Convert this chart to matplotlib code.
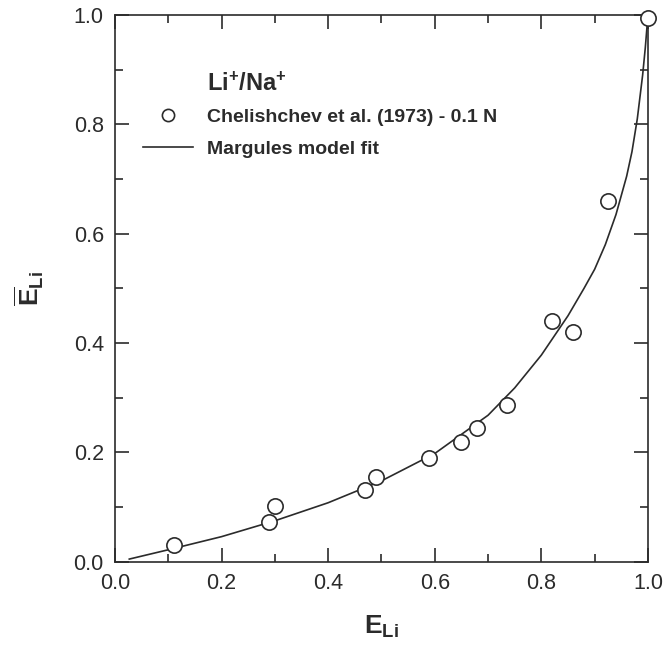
import matplotlib
matplotlib.use("Agg")
import matplotlib.pyplot as plt
from matplotlib.ticker import MultipleLocator

plt.rcParams['font.family'] = ['Liberation Sans', 'DejaVu Sans']
plt.rcParams['mathtext.fontset'] = 'custom'
plt.rcParams['mathtext.rm'] = 'Liberation Sans'
plt.rcParams['mathtext.bf'] = 'Liberation Sans:bold'

# measured data (Chelishchev et al. 1973, 0.1 N)
e_li = [0.11, 0.29, 0.30, 0.47, 0.49, 0.59, 0.65, 0.68, 0.735, 0.82, 0.86, 0.925, 1.0]
e_li_bar = [0.030, 0.072, 0.102, 0.131, 0.155, 0.190, 0.220, 0.245, 0.286, 0.440, 0.420, 0.660, 0.995]

# Margules model fit
fit_x = [0.027, 0.1, 0.2, 0.3, 0.4, 0.5, 0.6, 0.7, 0.75, 0.8, 0.85, 0.88,
         0.9, 0.92, 0.94, 0.96, 0.97, 0.98, 0.99, 0.995, 1.0]
fit_y = [0.005, 0.022, 0.046, 0.075, 0.108, 0.148, 0.198, 0.268, 0.318, 0.378,
         0.450, 0.500, 0.535, 0.580, 0.635, 0.705, 0.750, 0.810, 0.890, 0.940, 1.0]

ink = '#2b2b2b'

fig = plt.figure(figsize=(6.68, 6.51), dpi=100)
ax = fig.add_axes([0.172, 0.137, 0.798, 0.840])

ax.plot(fit_x, fit_y, color=ink, lw=1.2, label='Margules model fit', zorder=2)
ax.plot(e_li, e_li_bar, 'o', ms=11, mfc='white', mec=ink, mew=1.2,
        label='Chelishchev et al. (1973) - 0.1 N', zorder=3, clip_on=False)

ax.set_xlim(0, 1)
ax.set_ylim(0, 1)
ax.xaxis.set_major_locator(MultipleLocator(0.2))
ax.xaxis.set_minor_locator(MultipleLocator(0.1))
ax.yaxis.set_major_locator(MultipleLocator(0.2))
ax.yaxis.set_minor_locator(MultipleLocator(0.1))
ax.tick_params(which='both', direction='in', top=True, right=True,
               color=ink, width=1.2)
ax.tick_params(which='major', length=10, labelsize=15.5, labelcolor=ink, pad=8)
ax.tick_params(which='minor', length=5.5)
for s in ax.spines.values():
    s.set_color(ink)
    s.set_linewidth(1.2)

ax.set_xlabel(r'$\mathbf{E}_{\mathbf{Li}}$', fontsize=19, color=ink, labelpad=14)
ax.set_ylabel(r'$\overline{\mathbf{E}}_{\mathbf{Li}}$', fontsize=19, color=ink, labelpad=20)

ax.text(0.172, 0.874, r'$\mathbf{Li^{+}/Na^{+}}$', transform=ax.transAxes,
        fontsize=17, color=ink, va='center', ha='left')

h, l = ax.get_legend_handles_labels()
ax.legend(h[::-1], l[::-1], loc='upper left', bbox_to_anchor=(0.052, 0.829),
          frameon=False, borderpad=0, borderaxespad=0, handlelength=2.6,
          handletextpad=0.7, labelspacing=0.75, markerscale=0.8,
          prop={'size': 14, 'weight': 'bold'}, labelcolor=ink)

fig.savefig('out.png', dpi=100)
